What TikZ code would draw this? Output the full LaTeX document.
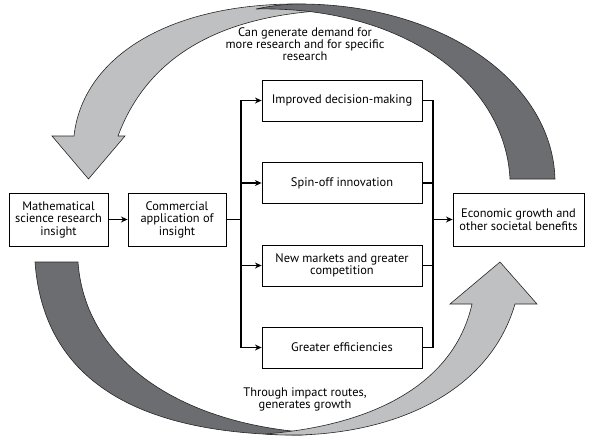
\documentclass[tikz,border=0pt]{standalone}
\usepackage{fontspec}
\setmainfont{PT Sans}
\usepackage{tikz}
\usetikzlibrary{positioning,arrows.meta}
\usepackage{xcolor}
\definecolor{arclight}{RGB}{191,192,194}
\definecolor{arcdark}{RGB}{108,109,113}

\begin{document}
\begin{tikzpicture}[x=0.75pt, y=-0.75pt,
    box/.style={draw, line width=0.6pt, align=center, inner sep=2pt, font=\fontsize{9.3}{9.4}\selectfont},
    label/.style={align=center, inner sep=1pt, font=\fontsize{9.3}{9}\selectfont},
    link/.style={line width=0.8pt, line cap=rect},
    tip/.style={-{Stealth[length=5pt,width=4.5pt]}},
    band/.style={draw=black!85, line width=0.45pt}]
  \useasboundingbox (0,0) rectangle (601,443);
  \path[band, fill=arclight] (52,136) -- (88.5,179) -- (125,136) -- (118,136)
    .. controls (150,50) and (230,14) .. (335,10)
    .. controls (315,4) and (305,4) .. (290,4)
    .. controls (160,6) and (82,62) .. (74,136) -- cycle;
  \path[band, fill=arcdark] (555,179) .. controls (552,80) and (440,4) .. (300,4)
    .. controls (285,4) and (270,6) .. (256,9)
    .. controls (400,6) and (505,80) .. (510,179) -- cycle;
  \path[band, fill=arcdark] (35,262) -- (78,262)
    .. controls (85,360) and (180,425) .. (315,433)
    .. controls (308,435) and (304,435) .. (300,435)
    .. controls (170,435) and (45,400) .. (35,262) -- cycle;
  \path[band, fill=arclight] (500,262) -- (537,304) -- (515,304)
    .. controls (490,390) and (400,432) .. (300,435)
    .. controls (285,435) and (275,435) .. (265,434)
    .. controls (380,425) and (455,380) .. (472,304) -- (450,304) -- cycle;
  \node[label] (demand) at (305,44) {Can generate demand for\\more research and for specific\\research};
  \node[label] (growth) at (305,399) {Through impact routes,\\generates growth};
  \node[box, minimum width=74.25pt, minimum height=39.75pt] (sci) at (58.5,219.5) {Mathematical\\science research\\insight};
  \node[box, minimum width=73.5pt, minimum height=39.75pt] (com) at (177,219.5) {Commercial\\application of\\insight};
  \node[box, minimum width=98.25pt, minimum height=39.75pt] (econ) at (518.5,219.5) {Economic growth and\\other societal benefits};
  \foreach \n/\y/\t in {dec/100.5/Improved decision-making, spin/183/Spin-off innovation,
      mkt/265.5/New markets and greater\\competition, eff/347.5/Greater efficiencies} {
    \node[box, minimum width=120pt, minimum height=30.75pt] (\n) at (342,\y) {\t};
  }
  \coordinate (busL) at (241,219.5);
  \coordinate (busR) at (433,219.5);
  \draw[link, tip] (sci) -- (com);
  \draw[link] (com.east) -- (busL);
  \draw[link] (busL |- dec) -- (busL |- eff);
  \draw[link] (busR |- dec) -- (busR |- eff);
  \foreach \n in {dec,spin,mkt,eff} {
    \draw[link, tip] (busL |- \n) -- (\n.west);
    \draw[link] (\n.east) -- (busR |- \n);
  }
  \draw[link, tip] (busR) -- (econ.west);
\end{tikzpicture}
\end{document}
